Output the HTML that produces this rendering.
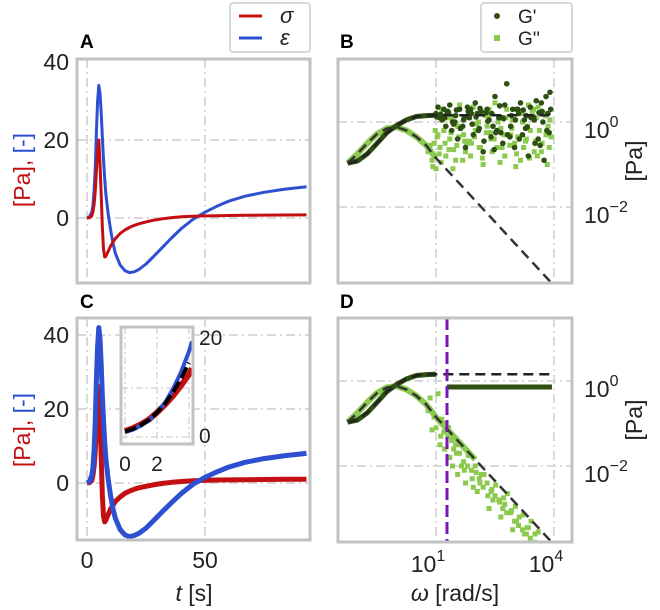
<!DOCTYPE html>
<html><head><meta charset="utf-8"><style>
body{margin:0;background:#fff;}
svg{display:block;font-family:"Liberation Sans",sans-serif;}
</style></head><body>
<svg id="fig" width="660" height="610" viewBox="0 0 660 610" xmlns="http://www.w3.org/2000/svg">
<g id="layer"></g>
</svg>
<script>
// ---- time-domain data (panels A, C) ----
const tA = [0,1,2,2.5,3,3.5,4,4.5,5,5.5,6,6.5,7,7.5,8,9,10,11,12,14,16,18,20,22,25,28,32,36,40,45,50,55,60,67,75,84,93];
const sigmaA = [0,0.1,0.5,1.5,3.5,7,12,17,20,14,6,-2,-8,-10,-9.8,-8.5,-7.2,-6.2,-5.3,-4,-3.1,-2.4,-1.9,-1.5,-1,-0.6,-0.2,0.1,0.3,0.45,0.55,0.6,0.65,0.7,0.75,0.78,0.8];
const epsA = [0,0.3,1.5,3,7,13,22,30,34,32,27,21,15,10,6,1,-3,-6.5,-9,-12,-13.5,-14,-13.8,-13.2,-11.8,-10,-7.5,-5,-2.7,-0.3,1.5,3,4.3,5.6,6.6,7.4,8];
const sigmaC = [0,0.1,0.6,2,4.5,9,15,22,26,18,7,-3,-9,-10.5,-10,-8.5,-7,-6,-5,-3.8,-2.8,-2.2,-1.7,-1.3,-0.9,-0.5,-0.1,0.2,0.4,0.6,0.7,0.8,0.85,0.9,0.95,1,1];
const epsC = [0,0.4,2,4,9,17,28,37,42,39,32,24,17,11,6.5,1,-3.5,-7,-9.5,-12.5,-14,-14.5,-14.2,-13.6,-12.2,-10.3,-7.7,-5.2,-2.8,-0.3,1.5,3,4.3,5.6,6.6,7.4,8];
const tInset = [0,0.5,1,1.5,2,2.5,3,3.5,4,4.2];
const epsInset = [1,1.5,2.3,3.4,5,7,9.8,13.2,17.5,19.5];
const sigInset = [1.2,1.8,2.6,3.6,5,6.6,8.4,10.5,12.8,14];
const tTicks = [0,50];
const yTicks = [0,20,40];
// ---- frequency-domain data (log10 values) ----
const wFit = [-1.25,-1,-0.75,-0.5,-0.25,0,0.25,0.5,0.75,1,2,3,4];
const gpFit = [-0.97,-0.92,-0.75,-0.5,-0.25,-0.08,0.05,0.13,0.15,0.16,0.16,0.16,0.16];
const gppFit = [-0.97,-0.75,-0.5,-0.28,-0.15,-0.12,-0.2,-0.35,-0.55,-0.85,-1.85,-2.85,-3.85];
const gpNoiseW = [1.0,1.05,1.1,1.15,1.2,1.25,1.3,1.35,1.4,1.5,1.55,1.6,1.7,1.75,1.8,1.9,1.95,2.0,2.1,2.15,2.2,2.3,2.35,2.4,2.5,2.55,2.6,2.7,2.75,2.8,2.9,2.95,3.0,3.1,3.15,3.2,3.3,3.35,3.4,3.5,3.55,3.6,3.7,3.75,3.8,3.85,3.9,1.45,2.05,2.65,3.25,3.65,1.85,2.45,3.05,
 1.02,1.12,1.22,1.32,1.42,1.52,1.62,1.72,1.82,1.92,2.02,2.12,2.22,2.32,2.42,2.52,2.62,2.72,2.82,2.92,3.02,3.12,3.22,3.32,3.42,3.52,3.62,3.72,3.82,3.92,1.08,1.28,1.48,1.68,1.88,2.08,2.28,2.48,2.68,2.88,3.08,3.28,3.48,3.68,3.88];
const gpNoiseG = [0.2,0.35,0.1,0.05,0.3,-0.1,0.25,0.4,-0.2,0.15,-0.4,0.3,0.05,-0.6,0.35,0.2,-0.3,0.45,-0.15,0.25,-0.7,0.3,0.05,-0.35,0.6,-0.2,0.1,-0.5,0.4,0.9,-0.1,0.3,-0.6,0.2,0.45,-0.3,0.15,-0.8,0.35,0.05,0.5,-0.4,0.25,-0.9,0.6,0.2,0.7,-0.05,0.2,-0.25,0.05,-0.55,0.1,-0.1,0.3,
 0.12,0.18,0.1,0.22,0.0,0.28,-0.15,0.1,0.25,-0.05,0.12,0.32,-0.45,0.02,0.2,-0.25,0.38,0.08,-0.3,0.15,0.05,-0.4,0.28,-0.12,0.1,-0.5,0.22,0.0,-0.2,0.3,0.15,0.2,0.0,-0.1,0.3,-0.2,0.22,-0.65,0.1,-0.35,0.3,-0.15,0.12,0.45,-0.25];
const gppNoiseW = [0.8,0.9,0.95,1.0,1.05,1.1,1.15,1.2,1.25,1.3,1.35,1.4,1.5,1.55,1.6,1.7,1.75,1.8,1.9,1.95,2.0,2.1,2.15,2.2,2.3,2.35,2.4,2.5,2.55,2.6,2.7,2.75,2.8,2.9,2.95,3.0,3.1,3.15,3.2,3.3,3.35,3.4,3.5,3.55,3.6,3.7,3.75,3.8,3.9,1.45,1.85,2.25,2.65,3.05,3.45,3.85,
 0.85,0.92,1.03,1.08,1.13,1.18,1.23,1.33,1.38,1.43,1.53,1.63,1.68,1.73,1.83,1.88,1.98,2.03,2.13,2.18,2.28,2.33,2.43,2.48,2.58,2.63,2.73,2.78,2.88,2.93,3.03,3.08,3.18,3.23,3.33,3.38,3.48,3.53,3.63,3.68,3.78,3.83,3.93,0.98,1.28,1.58,1.78,2.08,2.38,2.68,2.98,3.28,3.58,3.88];
const gppNoiseG = [-0.7,-0.9,-0.5,-1.1,-0.3,-0.6,0.3,-0.2,-0.8,0.2,-0.4,0.1,-0.9,-0.1,0.4,-0.3,-0.7,0.1,-0.5,0.35,-0.2,-0.6,0.2,-1.0,-0.1,0.3,-0.4,0.45,-0.6,-0.2,0.1,-0.8,0.3,-0.3,0.05,-0.5,0.25,-0.9,0.0,-0.4,0.4,-0.2,-0.7,0.1,0.35,-0.5,0.2,-0.3,0.05,-0.65,-0.45,0.15,-0.15,-0.75,0.25,-0.1,
 -0.55,-1.05,-0.35,-0.75,-0.95,0.05,-0.5,-0.65,-0.25,-1.1,-0.55,-0.15,-0.9,-0.45,0.2,-0.8,-0.35,-0.05,-0.6,-0.85,-0.25,0.15,-0.7,-0.4,0.0,-0.95,-0.3,0.1,-0.55,-0.15,-1.05,-0.35,0.2,-0.6,-0.1,-0.85,0.3,-0.45,-0.2,-0.7,0.15,-1.0,-0.35,-0.2,0.1,-0.35,-0.5,0.0,-0.25,-0.6,0.05,-0.45,-0.8,-0.6];
const dCut = 1.28;
const dPlateau = -0.14;
const dGppW = [0.8,0.9,1.0,1.05,1.1,1.15,1.2,1.25,1.3,1.35,1.4,1.5,1.55,1.6,1.7,1.75,1.8,1.9,2.0,2.05,2.1,2.2,2.3,2.35,2.4,2.5,2.6,2.65,2.7,2.8,2.9,2.95,3.0,3.1,3.2,3.25,3.3,3.4,3.5,1.45,1.65,1.95,2.15,2.45,2.75,3.05,3.35,
 0.85,0.95,1.12,1.22,1.32,1.42,1.52,1.62,1.72,1.82,1.92,2.02,2.12,2.22,2.32,2.42,2.52,2.62,2.72,2.82,2.92,3.02,3.12,3.22,3.32,3.42,3.52,3.6];
const dGppG = [-0.7,-1.15,-1.1,-0.3,-1.5,-0.9,-1.2,-1.0,-1.3,-1.8,-1.4,-1.5,-2.2,-1.7,-1.9,-2.4,-2.0,-2.1,-2.0,-2.6,-2.3,-2.5,-2.4,-3.0,-2.6,-2.7,-2.8,-3.2,-3.0,-3.1,-3.1,-3.5,-3.3,-3.4,-3.5,-3.6,-3.6,-3.7,-3.8,-1.6,-2.0,-2.5,-2.2,-2.8,-2.9,-3.3,-3.45,
 -0.4,-0.85,-1.3,-1.6,-1.1,-2.0,-1.7,-1.5,-2.1,-1.75,-2.3,-2.15,-2.4,-2.2,-2.7,-2.55,-2.45,-2.85,-2.75,-2.65,-3.05,-2.95,-3.2,-3.15,-3.45,-3.3,-3.6,-3.55];
const logTicksX = [1,4];
const logTicksY = [0,-2];

const NS="http://www.w3.org/2000/svg";
const layer=document.getElementById('layer');
function mk(tag,attrs,parent){const e=document.createElementNS(NS,tag);for(const k in attrs)e.setAttribute(k,attrs[k]);(parent||layer).appendChild(e);return e;}
function poly(xs,ys,fx,fy,attrs,parent){const pts=xs.map((x,i)=>fx(x).toFixed(1)+','+fy(ys[i]).toFixed(1)).join(' ');return mk('polyline',Object.assign({points:pts,fill:'none'},attrs),parent);}
const RED='#c40f12',BLUE='#2d50d2',DG='#2e4f12',LG='#8cc94f',GRID='#d9d9d9',FRAME='#c2c2c2';

function panelTime(P,sig,eps,name,thick){
  const g=mk('g',{});
  
  
  const fx=t=>P.x0+(t-0)*P.sx, fy=v=>P.y0-v*P.sy;
  const cp=mk('clipPath',{id:'clip'+name},g);mk('rect',{x:P.l,y:P.t,width:P.r-P.l,height:P.b-P.t},cp);
  tTicks.forEach(t=>{const l=mk('line',{x1:fx(t),x2:fx(t),y1:P.t,y2:P.b,stroke:GRID,'stroke-width':2,'stroke-dasharray':'9,4,2,4'},g);});
  yTicks.forEach(v=>{if(fy(v)>P.t+3){const l=mk('line',{x1:P.l,x2:P.r,y1:fy(v),y2:fy(v),stroke:GRID,'stroke-width':2,'stroke-dasharray':'9,4,2,4'},g);}
    const tx=mk('text',{x:P.l-8,y:fy(v)+8,'text-anchor':'end','font-size':23,fill:'#222'},g);tx.textContent=v;});
  const cg=mk('g',{'clip-path':'url(#clip'+name+')'},g);
  const ps=poly(tA,sig,fx,fy,{stroke:RED,'stroke-width':thick?5:3,'stroke-linejoin':'round'},cg);
  
  const pe=poly(tA,eps,fx,fy,{stroke:BLUE,'stroke-width':thick?5:3,'stroke-linejoin':'round'},cg);
  
  if(!thick){cg.insertBefore(pe,ps);}
  const fr=mk('rect',{x:P.l,y:P.t,width:P.r-P.l,height:P.b-P.t,fill:'none',stroke:FRAME,'stroke-width':3},g);
  
  return {g,fx,fy};
}
function panelFreq(P,name,isD){
  const g=mk('g',{});
  
  
  const fx=w=>P.x1+(w-1)*P.sx, fy=v=>P.y0-v*P.sy;
  const cp=mk('clipPath',{id:'clip'+name},g);mk('rect',{x:P.l,y:P.t,width:P.r-P.l,height:P.b-P.t},cp);
  logTicksX.forEach(w=>{const l=mk('line',{x1:fx(w),x2:fx(w),y1:P.t,y2:P.b,stroke:GRID,'stroke-width':2,'stroke-dasharray':'9,4,2,4'},g);});
  logTicksY.forEach(v=>{const l=mk('line',{x1:P.l,x2:P.r,y1:fy(v),y2:fy(v),stroke:GRID,'stroke-width':2,'stroke-dasharray':'9,4,2,4'},g);
    const tx=mk('text',{x:P.r+12,y:fy(v)+16,'font-size':23,fill:'#222'},g);
    tx.appendChild(document.createTextNode('10'));const s=mk('tspan',{dy:-11,'font-size':16},tx);s.textContent=v<0?'\u2212'+(-v):v;});
  const cg=mk('g',{'clip-path':'url(#clip'+name+')'},g);
  const n=isD?11:10;
  const lgd=poly(wFit.slice(0,n),gppFit.slice(0,n),fx,fy,{stroke:LG,'stroke-width':6},cg);
  const dgd=poly(wFit.slice(0,10),gpFit.slice(0,10),fx,fy,{stroke:DG,'stroke-width':5},cg);
  if(!isD){
    gppNoiseW.forEach((w,i)=>{const r=mk('rect',{x:fx(w)-2.5,y:fy(gppNoiseG[i])-2.5,width:5,height:5,fill:LG},cg);});
    gpNoiseW.forEach((w,i)=>{const c=mk('circle',{cx:fx(w),cy:fy(gpNoiseG[i]),r:2.8,fill:DG},cg);});
  } else {
    dGppW.forEach((w,i)=>{const r=mk('rect',{x:fx(w)-2.5,y:fy(dGppG[i])-2.5,width:5,height:5,fill:LG},cg);});
    const pl=mk('line',{x1:fx(dCut),x2:fx(3.95),y1:fy(dPlateau),y2:fy(dPlateau),stroke:DG,'stroke-width':5},cg);
  }
  const f1=poly(wFit,gpFit,fx,fy,{stroke:'#222','stroke-width':2.5,'stroke-dasharray':'10,6'},cg);
  const f2=poly(wFit,gppFit,fx,fy,{stroke:'#333','stroke-width':2.5,'stroke-dasharray':'10,6'},cg);
  if(isD){const v=mk('line',{x1:fx(dCut),x2:fx(dCut),y1:P.t,y2:P.b,stroke:'#7a16b8','stroke-width':3,'stroke-dasharray':'12,5'},cg);}
  const fr=mk('rect',{x:P.l,y:P.t,width:P.r-P.l,height:P.b-P.t,fill:'none',stroke:FRAME,'stroke-width':3},g);
  const yl=mk('text',{x:0,y:0,'font-size':23,fill:'#222','text-anchor':'middle',transform:`translate(642,${(P.t+P.b)/2-10}) rotate(-90)`},g);yl.textContent='[Pa]';
  return {g,fx,fy};
}
panelTime({l:77,r:310,t:59,b:283,x0:87,sx:2.36,y0:218,sy:3.9},sigmaA,epsA,'panel-a',false);
panelTime({l:77,r:310,t:318,b:540,x0:87,sx:2.36,y0:483,sy:3.7},sigmaC,epsC,'panel-c',true);
(function(){
  const g=mk('g',{});
  const L=121,R=193,T=327,B=444,fx=t=>125+t*16,fy=v=>437-v*4.9;
  mk('rect',{x:L,y:T,width:R-L,height:B-T,fill:'#fff'},g);
  [0,2,4].forEach(t=>mk('line',{x1:fx(t),x2:fx(t),y1:T,y2:B,stroke:GRID,'stroke-width':1.5,'stroke-dasharray':'7,3,2,3'},g));
  [0,10].forEach(v=>mk('line',{x1:L,x2:R,y1:fy(v),y2:fy(v),stroke:GRID,'stroke-width':1.5,'stroke-dasharray':'7,3,2,3'},g));
  const a=poly(tInset,sigInset,fx,fy,{stroke:RED,'stroke-width':6},g);
  const b=poly(tInset,epsInset,fx,fy,{stroke:BLUE,'stroke-width':4},g);
  const c=poly(tInset.slice(0,9),epsInset.slice(0,9).map((v,i)=>(v+sigInset[i])/2),fx,fy,{stroke:'#000','stroke-width':4,'stroke-dasharray':'12,4'},g);
  mk('rect',{x:L,y:T,width:R-L,height:B-T,fill:'none',stroke:FRAME,'stroke-width':3},g);
  [[0,125],[2,157]].forEach(([t,x])=>{const tx=mk('text',{x:x,y:471,'text-anchor':'middle','font-size':21,fill:'#222'},g);tx.textContent=t;});
  const t20=mk('text',{x:199,y:345,'font-size':21,fill:'#222'},g);t20.textContent='20';
  const t0=mk('text',{x:199,y:443,'font-size':21,fill:'#222'},g);t0.textContent='0';
})();
panelFreq({l:338,r:572,t:59,b:283,x1:436,sx:39.3,y0:122,sy:42.5},'panel-b',false);
panelFreq({l:338,r:572,t:318,b:542,x1:436,sx:39.3,y0:381,sy:42.5},'panel-d',true);

(function(){
const svg=document.getElementById('fig');
function m(tag,a,p){const e=document.createElementNS(NS,tag);for(const k in a)e.setAttribute(k,a[k]);(p||svg).appendChild(e);return e;}
[['A',80,48],['B',340,48],['C',80,308],['D',340,308]].forEach(([s,x,y])=>{const t=m('text',{x:x,y:y,'font-size':19,'font-weight':'bold',fill:'#000'});t.textContent=s;

});
const L1=m('g',{});
m('rect',{x:230,y:3,width:80,height:49,rx:3,fill:'#fff',stroke:'#ccc','stroke-width':1.5},L1);
m('line',{x1:239,x2:262,y1:16,y2:16,stroke:RED,'stroke-width':3},L1);
m('line',{x1:239,x2:262,y1:38,y2:38,stroke:BLUE,'stroke-width':3},L1);
let t=m('text',{x:280,y:23,'font-size':22,'font-style':'italic',fill:'#222'},L1);t.textContent='σ';
t=m('text',{x:280,y:45,'font-size':22,'font-style':'italic',fill:'#222'},L1);t.textContent='ε';
const L2=m('g',{});
m('rect',{x:481,y:3,width:91,height:49,rx:3,fill:'#fff',stroke:'#ccc','stroke-width':1.5},L2);
m('circle',{cx:497,cy:16,r:3,fill:DG},L2);
m('rect',{x:494,y:35,width:6,height:6,fill:LG},L2);
t=m('text',{x:518,y:23,'font-size':19,fill:'#222'},L2);t.textContent="G'";
t=m('text',{x:518,y:45,'font-size':19,fill:'#222'},L2);t.textContent="G''";
[170,430].forEach(cy=>{
 const tx=m('text',{'font-size':23,'text-anchor':'middle',transform:`translate(30,${cy}) rotate(-90)`});
 
 const a=m('tspan',{fill:RED},tx);a.textContent='[Pa], ';
 const b=m('tspan',{fill:BLUE},tx);b.textContent='[-]';
});
[[87,'0'],[205,'50']].forEach(([x,s])=>{const tx=m('text',{x:x,y:568,'text-anchor':'middle','font-size':23,fill:'#222'});tx.textContent=s;});
[[436,'1'],[554,'4']].forEach(([x,s])=>{const tx=m('text',{x:x-8,y:572,'text-anchor':'middle','font-size':23,fill:'#222'});tx.appendChild(document.createTextNode('10'));const sp=m('tspan',{dy:-11,'font-size':16},tx);sp.textContent=s;});
let xt=m('text',{x:194,y:601,'text-anchor':'middle','font-size':23,fill:'#222'});
let it=m('tspan',{'font-style':'italic'},xt);it.textContent='t';let rt=m('tspan',{},xt);rt.textContent='  [s]';
xt=m('text',{x:455,y:601,'text-anchor':'middle','font-size':23,fill:'#222'});
it=m('tspan',{'font-style':'italic'},xt);it.textContent='ω';rt=m('tspan',{},xt);rt.textContent='  [rad/s]';
})();
</script>
</body></html>
